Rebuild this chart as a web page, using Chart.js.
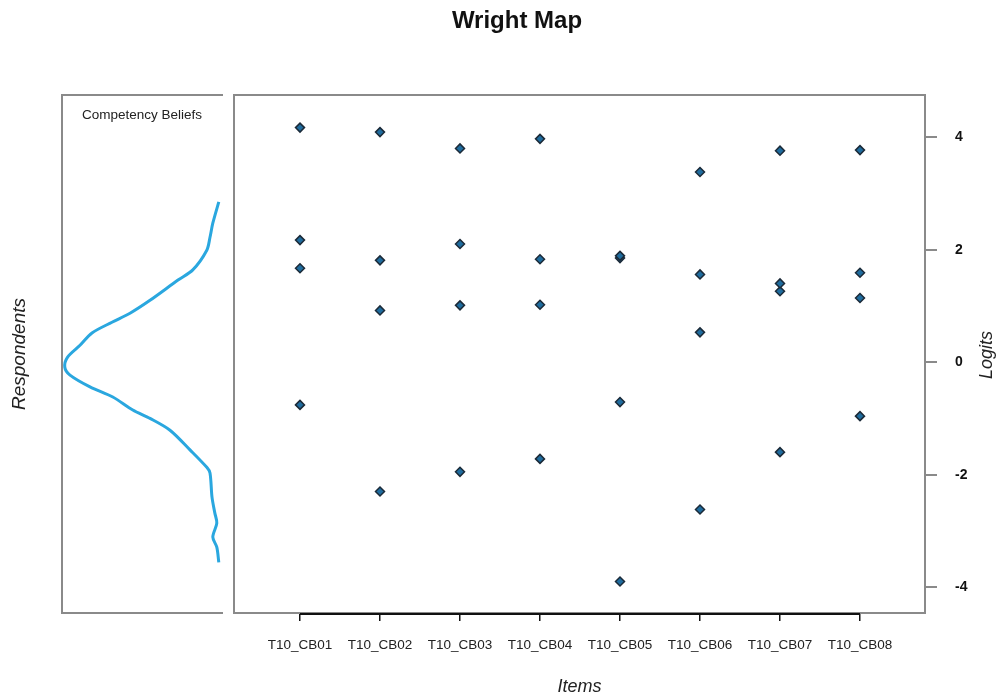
<!DOCTYPE html>
<html>
<head>
<meta charset="utf-8">
<title>Wright Map</title>
<script src="https://cdn.jsdelivr.net/npm/chart.js@4.4.1/dist/chart.umd.min.js"></script>
<style>
  html, body { margin: 0; padding: 0; background: #fff; }
  #wrap { position: relative; width: 999px; height: 700px; overflow: hidden; }
  #leftChart { position: absolute; left: 0; top: 0; }
  #rightChart { position: absolute; left: 228px; top: 0; }
</style>
</head>
<body>
<div id="wrap">
  <canvas id="leftChart" width="228" height="700"></canvas>
  <canvas id="rightChart" width="771" height="700"></canvas>
</div>
<script>
/* ==========================================================
   DATA
========================================================== */
const items = ["T10_CB01", "T10_CB02", "T10_CB03", "T10_CB04", "T10_CB05", "T10_CB06", "T10_CB07", "T10_CB08"];
const itemPos = [1, 2, 3, 4, 5, 6, 7, 8];

// item thresholds (logits), one list per threshold
const thresh1 = [4.17, 4.09, 3.80, 3.97, 1.89, 3.38, 3.76, 3.77];
const thresh2 = [2.17, 1.81, 2.10, 1.83, 1.85, 1.56, 1.40, 1.59];
const thresh3 = [1.67, 0.92, 1.01, 1.02, -0.71, 0.53, 1.26, 1.14];
const thresh4 = [-0.76, -2.30, -1.95, -1.72, -3.90, -2.62, -1.60, -0.96];

const logitTicks = [-4, -2, 0, 2, 4];

// respondent density curve (logit, density)
const densLogit = [2.85, 2.47, 2.22, 1.99, 1.64, 1.46, 1.10, 0.87, 0.71, 0.52, 0.30, 0.09, -0.09, -0.23, -0.44, -0.62, -0.85, -1.00, -1.21, -1.56, -1.87, -1.97, -2.40, -2.68, -2.86, -3.11, -3.29, -3.56];
const densValue = [0.008, 0.023, 0.030, 0.038, 0.073, 0.110, 0.180, 0.230, 0.275, 0.325, 0.355, 0.386, 0.393, 0.380, 0.330, 0.273, 0.223, 0.180, 0.130, 0.080, 0.038, 0.030, 0.025, 0.018, 0.013, 0.023, 0.013, 0.008];

const yMin = -4.46;
const yMax = 4.75;

/* ==========================================================
   HELPERS
========================================================== */
const frameColor = "#8a8a8a";

function framePlugin(id, sides) {
    return {
        id: id,
        afterDraw(chart) {
            const { ctx, chartArea: a } = chart;
            ctx.save();
            ctx.strokeStyle = frameColor;
            ctx.lineWidth = 2;
            ctx.beginPath();
            if (sides.includes("top")) { ctx.moveTo(a.left, a.top); ctx.lineTo(a.right + 1, a.top); }
            if (sides.includes("left")) { ctx.moveTo(a.left, a.top - 1); ctx.lineTo(a.left, a.bottom + 1); }
            if (sides.includes("bottom")) { ctx.moveTo(a.left, a.bottom); ctx.lineTo(a.right + 1, a.bottom); }
            if (sides.includes("right")) { ctx.moveTo(a.right, a.top - 1); ctx.lineTo(a.right, a.bottom + 1); }
            ctx.stroke();
            ctx.restore();
        }
    };
}

/* ==========================================================
   LEFT PANEL — RESPONDENT DENSITY
========================================================== */
const leftLabels = {
    id: "leftLabels",
    afterDraw(chart) {
        const ctx = chart.ctx;
        ctx.save();
        ctx.fillStyle = "#222";
        ctx.font = "13.5px 'Liberation Sans', Arial, sans-serif";
        ctx.textAlign = "center";
        ctx.textBaseline = "middle";
        ctx.fillText("Competency Beliefs", 142, 115);
        ctx.restore();
    }
};

new Chart(document.getElementById("leftChart"), {
    type: "scatter",
    data: {
        datasets: [{
            label: "Respondents",
            data: densLogit.map((l, i) => ({ x: densValue[i], y: l })),
            showLine: true,
            borderColor: "#2aa7df",
            borderWidth: 3,
            pointRadius: 0,
            tension: 0.3,
            fill: false
        }]
    },
    options: {
        responsive: false,
        animation: false,
        layout: { padding: { top: 95, bottom: 87, right: 6, left: 0 } },
        plugins: { legend: { display: false }, tooltip: { enabled: false } },
        scales: {
            x: {
                type: "linear",
                display: false,
                reverse: true,
                min: 0,
                max: 0.40
            },
            y: {
                type: "linear",
                position: "left",
                min: yMin,
                max: yMax,
                grid: { display: false },
                border: { display: false },
                ticks: { display: false },
                title: {
                    display: true,
                    text: "Respondents",
                    color: "#222",
                    font: { family: "'Liberation Sans', Arial, sans-serif", size: 19, style: "italic" },
                    padding: { top: 8, bottom: 0 }
                },
                afterFit(scale) { scale.width = 62; }
            }
        }
    },
    plugins: [framePlugin("leftFrame", ["top", "left", "bottom"]), leftLabels]
});

/* ==========================================================
   RIGHT PANEL — ITEM THRESHOLDS
========================================================== */
const rightExtras = {
    id: "rightExtras",
    afterDraw(chart) {
        const { ctx, chartArea: a } = chart;
        const xs = chart.scales.x;
        ctx.save();
        // R style axis segment from first to last item
        ctx.strokeStyle = "#111";
        ctx.lineWidth = 2;
        ctx.beginPath();
        ctx.moveTo(xs.getPixelForValue(itemPos[0]), a.bottom + 1);
        ctx.lineTo(xs.getPixelForValue(itemPos[itemPos.length - 1]), a.bottom + 1);
        ctx.stroke();

        // main title
        ctx.fillStyle = "#111";
        ctx.font = "bold 24px 'Liberation Sans', Arial, sans-serif";
        ctx.textAlign = "center";
        ctx.textBaseline = "alphabetic";
        ctx.fillText("Wright Map", 517 - 228, 28);

        // right axis title, reading bottom to top
        ctx.font = "italic 18px 'Liberation Sans', Arial, sans-serif";
        ctx.fillStyle = "#222";
        ctx.translate(987 - 228, 355);
        ctx.rotate(-Math.PI / 2);
        ctx.textBaseline = "middle";
        ctx.fillText("Logits", 0, 0);
        ctx.restore();
    }
};

const pointStyleOpts = {
    showLine: false,
    pointStyle: "rectRot",
    pointRadius: 4.5,
    pointBackgroundColor: "#1f6c9e",
    pointBorderColor: "#1b2a38",
    pointBorderWidth: 1.5
};

function series(name, vals) {
    return Object.assign({
        label: name,
        data: itemPos.map((p, i) => ({ x: p, y: vals[i] }))
    }, pointStyleOpts);
}

new Chart(document.getElementById("rightChart"), {
    type: "scatter",
    data: {
        datasets: [
            series("Threshold 1", thresh1),
            series("Threshold 2", thresh2),
            series("Threshold 3", thresh3),
            series("Threshold 4", thresh4)
        ]
    },
    options: {
        responsive: false,
        animation: false,
        layout: { padding: { top: 95, left: 6, right: 0, bottom: 0 } },
        plugins: { legend: { display: false }, tooltip: { enabled: false } },
        scales: {
            x: {
                type: "linear",
                min: 0.175,
                max: 8.8125,
                afterBuildTicks(scale) { scale.ticks = itemPos.map(v => ({ value: v })); },
                grid: {
                    drawOnChartArea: false,
                    drawTicks: true,
                    tickLength: 8,
                    color: "#111",
                    lineWidth: 1.5
                },
                border: { display: false },
                ticks: {
                    autoSkip: false,
                    maxRotation: 0,
                    padding: 16,
                    color: "#222",
                    font: { family: "'Liberation Sans', Arial, sans-serif", size: 13.5 },
                    callback: (v) => items[itemPos.indexOf(v)]
                },
                title: {
                    display: true,
                    text: "Items",
                    color: "#222",
                    font: { family: "'Liberation Sans', Arial, sans-serif", size: 18, style: "italic" },
                    padding: { top: 0, bottom: 2 }
                },
                afterFit(scale) { scale.height = 87; }
            },
            y: {
                type: "linear",
                position: "right",
                min: yMin,
                max: yMax,
                afterBuildTicks(scale) { scale.ticks = logitTicks.map(v => ({ value: v })); },
                grid: {
                    drawOnChartArea: false,
                    drawTicks: true,
                    tickLength: 12,
                    color: frameColor,
                    lineWidth: 2
                },
                border: { display: false },
                ticks: {
                    padding: 18,
                    color: "#111",
                    font: { family: "'Liberation Sans', Arial, sans-serif", size: 14, weight: "bold" }
                },
                afterFit(scale) { scale.width = 74; }
            }
        }
    },
    plugins: [framePlugin("rightFrame", ["top", "left", "bottom", "right"]), rightExtras]
});
</script>
</body>
</html>
